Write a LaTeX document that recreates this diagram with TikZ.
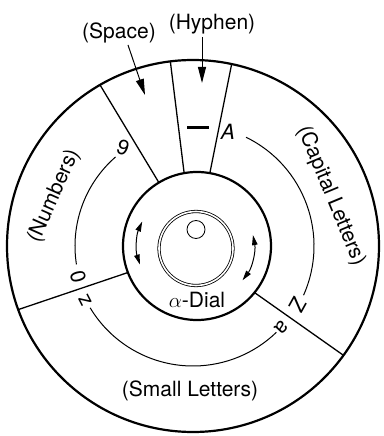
\documentclass[tikz,border=0pt]{standalone}
\usepackage{fontspec}
\setmainfont{TeX Gyre Heros}
\usetikzlibrary{positioning,arrows.meta,calc}

\begin{document}
\begin{tikzpicture}[x=1pt, y=1pt, every node/.style={font=\fontsize{21}{24}\selectfont, inner sep=0pt, outer sep=0pt}]
  \tikzset{
    ring/.style={draw, circle, line width=2.2pt},
    sector/.style={line width=1.3pt},
    charspan/.style={line width=1pt},
    pointer/.style={-{Triangle[length=16pt, width=8pt]}, line width=1pt},
    swing/.style={{Triangle[length=10pt, width=5.5pt]}-{Triangle[length=10pt, width=5.5pt]}, line width=1pt},
    glyph/.style={font=\fontsize{21}{24}\selectfont}
  }
  \useasboundingbox (-193,-190) rectangle (190,246);
  \node[ring, minimum size=372pt] (rim) at (0,0) {};
  \node[ring, minimum size=148pt] (hub) at (4,0) {};
  \node[draw, circle, double, double distance=1.6pt, line width=0.8pt, minimum size=74pt] (dial) at (3,-2.5) {};
  \node[draw, circle, line width=0.8pt, minimum size=18pt] (knob) at (3,16.5) {};
  \draw[sector] (hub.121) -- (rim.120);
  \draw[sector] (hub.100) -- (rim.97.7);
  \draw[sector] (hub.80) -- (rim.78.3);
  \draw[sector] (hub.201) -- (rim.200.9);
  \draw[sector] (hub.-39) -- (rim.-36.4);
  \draw[charspan] ([shift={(64:121)}]rim.center) arc[start angle=64, end angle=-24, radius=121];
  \draw[charspan] ([shift={(131:118)}]rim.center) arc[start angle=131, end angle=189, radius=118];
  \draw[charspan] ([shift={(211:120)}]rim.center) arc[start angle=211, end angle=314, radius=120];
  \draw[swing] ([shift={(156:60)}]hub.center) arc[start angle=156, end angle=198, radius=60];
  \draw[swing] ([shift={(11:57)}]hub.center) arc[start angle=11, end angle=-37, radius=57];
  \node (space) at (-74,213) {(Space)};
  \node (hyphen) at (19,222) {(Hyphen)};
  \coordinate (spacetip) at (-48,151);
  \coordinate (hyphentip) at (9,163);
  \draw[pointer] (-65,201) -- (spacetip);
  \draw[pointer] (9,209) -- (hyphentip);
  \draw[line width=3pt] (-6,118) -- (16,118);
  \node[glyph] (capA) at (35,114) {\itshape A};
  \node[glyph, rotate=-119] (capZ) at (105,-59) {Z};
  \node[glyph, rotate=-133] (smalla) at (89,-82) {a};
  \node[glyph, rotate=117] (smallz) at (-108,-54) {z};
  \node[glyph, rotate=105] (zero) at (-115,-31) {0};
  \node[glyph, rotate=-20] (nine) at (-70,98) {9};
  \node[rotate=66] (numbers) at (-139,50) {(Numbers)};
  \node[rotate=-67.5] (capitals) at (138,50) {(Capital Letters)};
  \node (smalls) at (-3,-145) {(Small Letters)};
  \node (dialname) at (4,-54) {$\alpha$-Dial};
\end{tikzpicture}
\end{document}
